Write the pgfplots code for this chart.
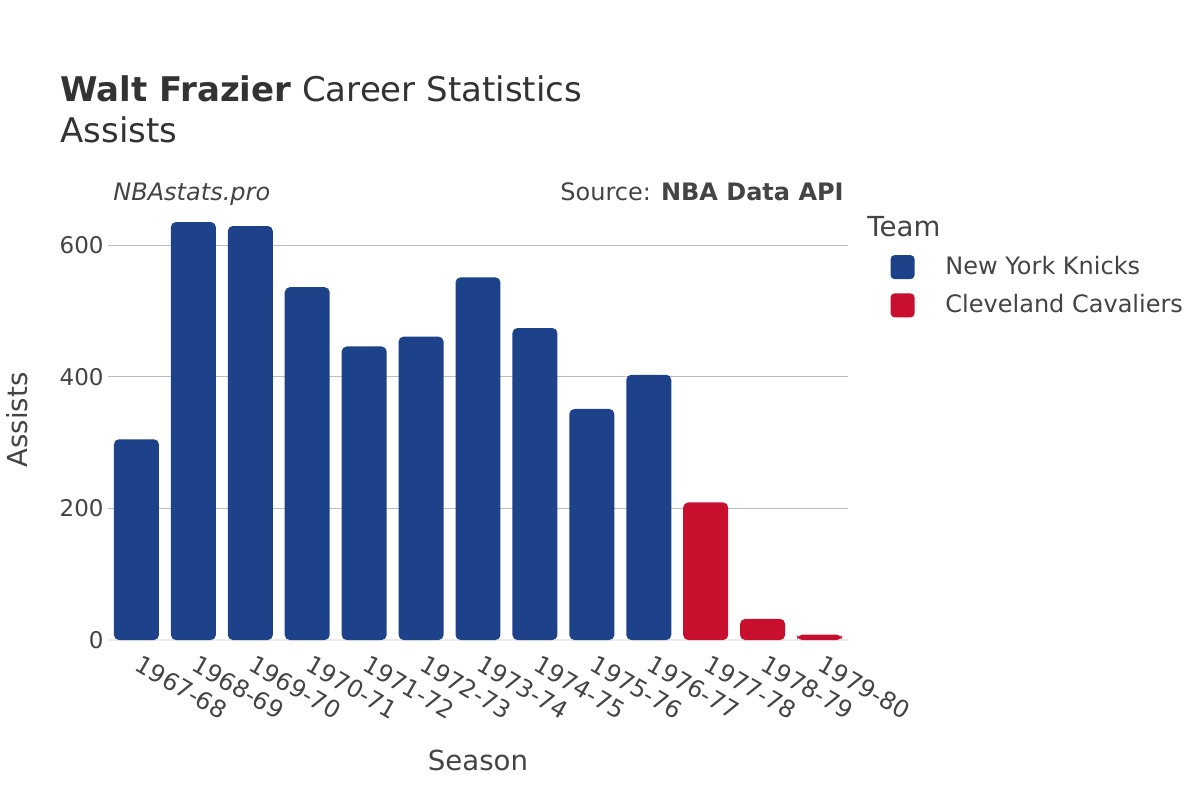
\documentclass[border=0pt]{standalone}
\usepackage{pgfplots}
\pgfplotsset{compat=1.18}
\usepackage{fontspec}
\setmainfont{DejaVu Sans}
\definecolor{knicks}{HTML}{1D428A}
\definecolor{cavs}{HTML}{C8102E}
\definecolor{txt}{HTML}{444444}
\definecolor{ttl}{HTML}{333333}
\definecolor{gridc}{HTML}{BDBDBD}
\definecolor{zeroc}{HTML}{EBEBEB}
\newcommand{\fs}[1]{\fontsize{#1}{#1}\selectfont}
\begin{document}
\begin{tikzpicture}
\path[fill=white, use as bounding box] (0,0) rectangle (600pt,400pt);
\begin{axis}[
  at={(54pt,80pt)}, anchor=south west,
  scale only axis, width=370pt, height=219.5pt,
  xmin=-0.5, xmax=12.5, ymin=0, ymax=667,
  axis line style={draw=none},
  major tick length=0pt,
  xtick={0,...,12},
  xticklabels={1967-68,1968-69,1969-70,1970-71,1971-72,1972-73,1973-74,1974-75,1975-76,1976-77,1977-78,1978-79,1979-80},
  xticklabel style={rotate=-30, anchor=north west, inner sep=0pt, xshift=6pt, yshift=-4.5pt, font=\fs{12pt}, text=txt},
  ytick={200,400,600},
  extra y ticks={0},
  extra y tick style={grid style={draw=zeroc, line width=1pt}},
  yticklabel style={font=\fs{11.5pt}, text=txt, inner sep=0pt, xshift=-2pt},
  /pgf/number format/assume math mode=true,
  ymajorgrids,
  grid style={draw=gridc, line width=0.5pt},
  ybar, bar width=0.79, bar shift=0pt,
  legend style={draw=none, fill=none, at={(1.057,0.879)}, anchor=north west,
    font=\fs{12pt}, text=txt, row sep=6.5pt, inner sep=0pt,
    nodes={inner sep=1pt}},
  legend cell align=left,
  clip=false,
]
\addplot[fill=knicks, draw=none, rounded corners=2.5pt,
  legend image code/.code={\fill[knicks, rounded corners=2pt] (0pt,-6pt) rectangle (12pt,6pt); \node[inner sep=0pt, minimum width=9.5pt, minimum height=1pt, draw=none, fill=none] at (16.75pt,0pt) {};}]
  coordinates {(0,305) (1,635) (2,629) (3,536) (4,446) (5,461) (6,551) (7,474) (8,351) (9,403)};
\addlegendentry{New York Knicks}
\addplot[fill=cavs, draw=none, rounded corners=2.5pt,
  legend image code/.code={\fill[cavs, rounded corners=2pt] (0pt,-6pt) rectangle (12pt,6pt); \node[inner sep=0pt, minimum width=9.5pt, minimum height=1pt, draw=none, fill=none] at (16.75pt,0pt) {};}]
  coordinates {(10,209) (11,32) (12,8)};
\addlegendentry{Cleveland Cavaliers}
\end{axis}
\node[anchor=base west, inner sep=0pt, text=ttl, font=\fs{17pt}] at (30pt,349pt) {\textbf{Walt Frazier} Career Statistics};
\node[anchor=base west, inner sep=0pt, text=ttl, font=\fs{17pt}] at (30pt,328.5pt) {Assists};
\node[anchor=base west, inner sep=0pt, text=txt, font=\fs{12pt}\itshape] at (56.5pt,300pt) {NBAstats.pro};
\node[anchor=base east, inner sep=0pt, text=txt, font=\fs{12pt}] at (422pt,300pt) {Source: \textbf{NBA Data API}};
\node[anchor=base, inner sep=0pt, text=txt, font=\fs{13.8pt}] at (239pt,15pt) {Season};
\node[rotate=90, inner sep=0pt, text=txt, font=\fs{13.8pt}] at (8.5pt,190pt) {Assists};
\node[anchor=base west, inner sep=0pt, text=txt, font=\fs{13.8pt}] at (433.5pt,282pt) {Team};
\end{tikzpicture}
\end{document}
